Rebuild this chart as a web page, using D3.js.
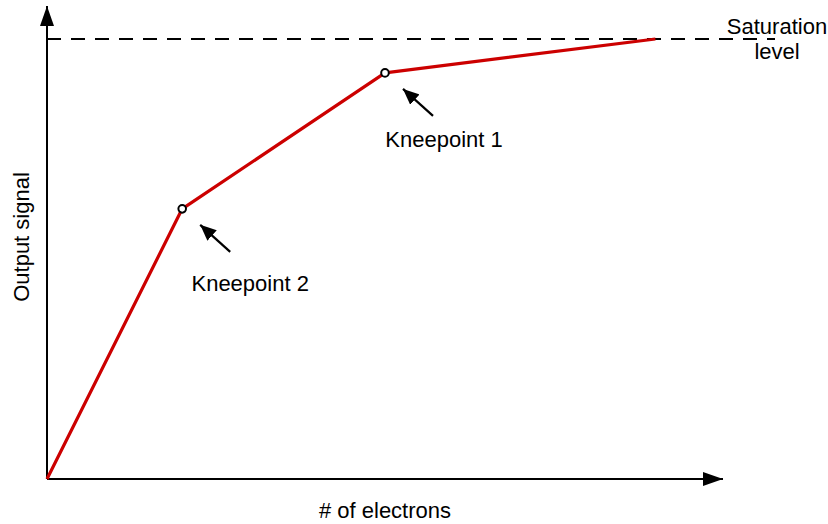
<!DOCTYPE html>
<html><head><meta charset="utf-8">
<script src="https://cdn.jsdelivr.net/npm/d3@7"></script>
<style>body{margin:0;background:#fff}svg{display:block}text{font-family:"Liberation Sans",Arial,sans-serif;fill:#000}</style>
</head><body>
<script>
const electrons = [0, 20, 50, 90];
const outputSignal = [0, 61.4, 92.3, 100];
const kneepointNames = ["Kneepoint 2", "Kneepoint 1"];
const kneepointIndex = [1, 2];
const saturationLevel = 100;
const xLabel = "# of electrons";
const yLabel = "Output signal";
const saturationLabel = ["Saturation", "level"];

const W = 828, H = 524;
const svg = d3.select("body").append("svg").attr("width", W).attr("height", H);
const x = d3.scaleLinear().domain([0, 100]).range([47, 723]);
const y = d3.scaleLinear().domain([0, 100]).range([479, 39]);

const defs = svg.append("defs");
defs.append("marker").attr("id","ah").attr("viewBox","0 0 16 14").attr("refX",16).attr("refY",7)
  .attr("markerWidth",16).attr("markerHeight",14).attr("markerUnits","userSpaceOnUse").attr("orient","auto")
  .append("path").attr("d","M0,0 L16,7 L0,14 Z").attr("fill","#000");
defs.append("marker").attr("id","axh").attr("viewBox","0 0 20 14").attr("refX",20).attr("refY",7)
  .attr("markerWidth",21).attr("markerHeight",14).attr("markerUnits","userSpaceOnUse").attr("orient","auto")
  .append("path").attr("d","M0,0 L20,7 L0,14 Z").attr("fill","#000");

// saturation dashed line
svg.append("line").attr("x1", x(0)).attr("x2", 775).attr("y1", y(saturationLevel)).attr("y2", y(saturationLevel))
  .attr("stroke","#000").attr("stroke-width",2).attr("stroke-dasharray","14,10");

// axes
svg.append("line").attr("x1", x(0)).attr("y1", y(0)).attr("x2", x(100)).attr("y2", y(0))
  .attr("stroke","#000").attr("stroke-width",2).attr("marker-end","url(#axh)");
svg.append("line").attr("x1", x(0)).attr("y1", y(0)).attr("x2", x(0)).attr("y2", 6)
  .attr("stroke","#000").attr("stroke-width",2).attr("marker-end","url(#axh)");

// response curve
const pts = electrons.map((e,i)=>[e, outputSignal[i]]);
svg.append("path").datum(pts)
  .attr("d", d3.line().x(d=>x(d[0])).y(d=>y(d[1])))
  .attr("fill","none").attr("stroke","#cc0000").attr("stroke-width",3.2).attr("stroke-linejoin","round");

// kneepoints
const labelDx = [68, 59], labelDy = [82, 74];
kneepointIndex.forEach((k,i)=>{
  const px = x(electrons[k]), py = y(outputSignal[k]);
  svg.append("circle").attr("cx",px).attr("cy",py).attr("r",3.8)
    .attr("fill","#fff").attr("stroke","#000").attr("stroke-width",2);
  svg.append("line").attr("x1",px+48).attr("y1",py+43).attr("x2",px+18).attr("y2",py+16)
    .attr("stroke","#000").attr("stroke-width",2.2).attr("marker-end","url(#ah)");
  svg.append("text").attr("x",px+labelDx[i]).attr("y",py+labelDy[i]).attr("text-anchor","middle")
    .attr("font-size",22).text(kneepointNames[i]);
});

// labels
svg.append("text").attr("x",385).attr("y",518).attr("text-anchor","middle").attr("font-size",22).text(xLabel);
svg.append("text").attr("transform","translate(29,237) rotate(-90)").attr("text-anchor","middle").attr("font-size",22).text(yLabel);
svg.selectAll("text.sat").data(saturationLabel).enter().append("text")
  .attr("x",777).attr("y",(d,i)=>34+i*25).attr("text-anchor","middle").attr("font-size",22).text(d=>d);
</script>
</body></html>
